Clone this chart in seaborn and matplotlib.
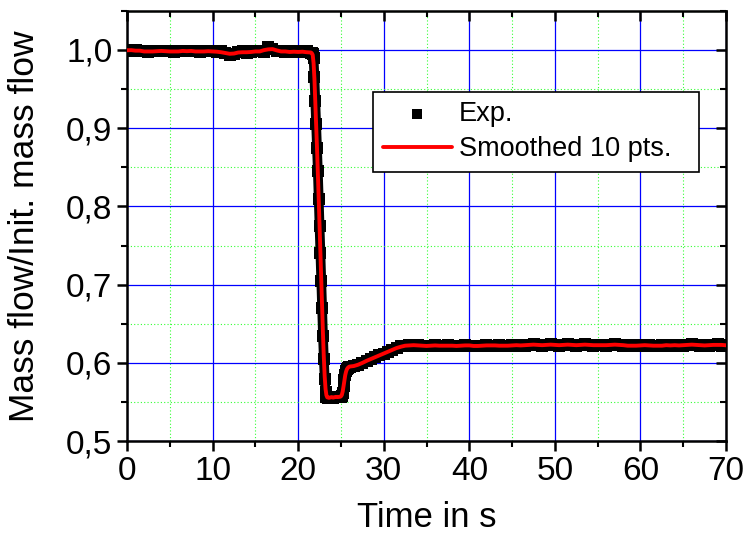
import matplotlib
matplotlib.use("Agg")
import matplotlib.pyplot as plt
from matplotlib.ticker import MultipleLocator
import seaborn as sns
import pandas as pd
import numpy as np

time_s = np.concatenate([np.linspace(0, 21.5, 44),
                         np.linspace(21.6, 26.0, 45),
                         np.linspace(26.5, 70.0, 88)])
mass_ratio = [
    1.000, 0.999, 1.000, 0.998, 0.999, 0.997, 0.998, 0.999, 0.998, 0.999, 0.998,   # 0-5
    0.997, 0.999, 0.998, 0.999, 0.998, 0.999, 0.997, 0.998, 0.999, 0.998,          # 5.5-10
    0.997, 0.998, 0.996, 0.994, 0.995, 0.997, 0.998, 0.996, 0.997, 0.999,          # 10.5-15
    0.998, 0.997, 1.004, 1.001, 0.998, 0.999, 0.997, 0.998, 0.997, 0.998,          # 15.5-20
    0.997, 0.998, 0.996,                                                           # 20.5-21.5
    0.996, 0.995, 0.990, 0.965, 0.935, 0.905, 0.875, 0.845, 0.810, 0.775,          # 21.6-22.5
    0.740, 0.705, 0.670, 0.635, 0.605, 0.580, 0.563, 0.557, 0.556, 0.555,          # 22.6-23.5
    0.556, 0.555, 0.556, 0.557, 0.556, 0.555, 0.556, 0.557, 0.556, 0.557,          # 23.6-24.5
    0.556, 0.557, 0.556, 0.557, 0.557, 0.558, 0.562, 0.570, 0.578, 0.585,          # 24.6-25.5
    0.590, 0.592, 0.594, 0.595, 0.595,                                             # 25.6-26.0
    0.596, 0.597, 0.600, 0.603, 0.605, 0.607, 0.610, 0.612, 0.614, 0.617,          # 26.5-31
    0.619, 0.621, 0.622, 0.623, 0.622, 0.623, 0.622, 0.621, 0.622, 0.623,          # 31.5-36
    0.622, 0.621, 0.623, 0.622, 0.621, 0.622, 0.623, 0.622, 0.622, 0.621,          # 36.5-41
    0.622, 0.623, 0.622, 0.622, 0.623, 0.621, 0.622, 0.623, 0.622, 0.623,          # 41.5-46
    0.622, 0.623, 0.624, 0.623, 0.622, 0.623, 0.624, 0.623, 0.622, 0.623,          # 46.5-51
    0.624, 0.623, 0.622, 0.623, 0.624, 0.623, 0.622, 0.623, 0.623, 0.622,          # 51.5-56
    0.623, 0.624, 0.623, 0.622, 0.623, 0.621, 0.622, 0.623, 0.622, 0.623,          # 56.5-61
    0.622, 0.621, 0.623, 0.622, 0.623, 0.622, 0.623, 0.622, 0.623, 0.624,          # 61.5-66
    0.623, 0.622, 0.623, 0.622, 0.623, 0.624, 0.622, 0.623,                        # 66.5-70
]

x_ticks = [0, 10, 20, 30, 40, 50, 60, 70]
y_ticks = [0.5, 0.6, 0.7, 0.8, 0.9, 1.0]
y_tick_labels = ["0,5", "0,6", "0,7", "0,8", "0,9", "1,0"]

df = pd.DataFrame({"t": time_s, "exp": mass_ratio})
df["smooth"] = df["exp"].rolling(3, center=True, min_periods=1).mean()

sns.set_style("ticks")
plt.rcParams["font.family"] = ["Liberation Sans", "DejaVu Sans"]
plt.rcParams.update({"text.color": "black", "axes.labelcolor": "black",
                     "xtick.color": "black", "ytick.color": "black"})

fig = plt.figure(figsize=(7.47, 5.38), dpi=100)
ax = fig.add_axes([0.170, 0.180, 0.802, 0.800])

# dense measured points merge into a solid black band
sns.lineplot(data=df, x="t", y="exp", color="black", linewidth=7,
             legend=False, ax=ax, zorder=2)
sns.scatterplot(data=df, x="t", y="exp", marker="s", s=65, color="black",
                edgecolor="black", linewidth=0, label="Exp.", ax=ax, zorder=3)
sns.lineplot(data=df, x="t", y="smooth", color="red", linewidth=2.8,
             label="Smoothed 10 pts.", ax=ax, zorder=4)

ax.set_xlim(0, 70)
ax.set_ylim(0.5, 1.05)
ax.set_xticks(x_ticks)
ax.set_yticks(y_ticks)
ax.set_yticklabels(y_tick_labels)
ax.xaxis.set_minor_locator(MultipleLocator(5))
ax.yaxis.set_minor_locator(MultipleLocator(0.05))

ax.grid(which="major", color="#0000ff", linewidth=0.9, linestyle="-", zorder=0)
ax.grid(which="minor", color="#33ff33", linewidth=0.8, linestyle=(0, (1, 2)), zorder=0)
ax.set_axisbelow(True)

for sp in ax.spines.values():
    sp.set_linewidth(1.8)
    sp.set_color("black")
    sp.set_visible(True)

ax.tick_params(which="major", direction="out", length=7, width=1.8, labelsize=24)
ax.tick_params(which="minor", direction="out", length=4, width=1.5)
ax.tick_params(which="both", top=True, right=True)
# Origin style: top/right ticks point inward
for t in ax.xaxis.get_major_ticks() + ax.xaxis.get_minor_ticks():
    t.tick2line.set_marker(3)
for t in ax.yaxis.get_major_ticks() + ax.yaxis.get_minor_ticks():
    t.tick2line.set_marker(0)

ax.set_xlabel("Time in s", fontsize=25, labelpad=10)
ax.set_ylabel("Mass flow/Init. mass flow", fontsize=25.5, labelpad=18)

leg = ax.legend(loc="upper left", bbox_to_anchor=(0.411, 0.621, 0.544, 0.191),
                mode="expand", borderaxespad=0, fontsize=19.5,
                frameon=True, fancybox=False, edgecolor="black", framealpha=1,
                handlelength=2.55, borderpad=0.36, labelspacing=0.32, handletextpad=0.25)
leg.get_frame().set_linewidth(1.2)
leg.legend_handles[0].set_sizes([55])

fig.savefig("out.png", dpi=100)
